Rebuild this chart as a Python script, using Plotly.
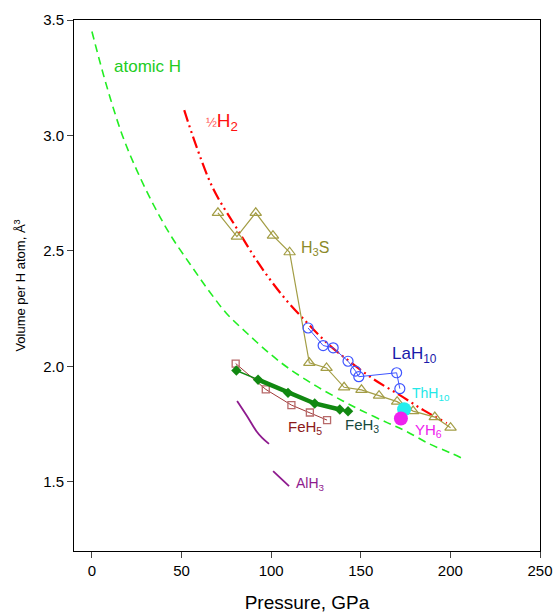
import plotly.graph_objects as go

# atomic H (dashed green)
atomic_p = [0, 8, 17, 25, 35, 44.5, 55, 65, 75, 87, 100, 110, 125, 140, 150, 165, 175, 188, 200, 207]
atomic_v = [3.45, 3.22, 3.0, 2.85, 2.69, 2.56, 2.44, 2.33, 2.23, 2.14, 2.05, 1.99, 1.915, 1.85, 1.81, 1.755, 1.72, 1.665, 1.625, 1.60]

# 1/2 H2 (dash-dot-dot red)
h2_p = [51.5, 57.5, 67.6, 80.6, 93.5, 107, 120.5, 132, 143.9, 157, 171.8, 185, 198]
h2_v = [3.11, 2.97, 2.77, 2.60, 2.44, 2.30, 2.185, 2.095, 2.02, 1.945, 1.875, 1.81, 1.754]

# H3S
h3s_p = [70.3, 80.9, 91.4, 101.0, 110.3, 121.3, 130.9, 140.7, 150.4, 160.2, 170.3, 179.2, 191.3, 200.1]
h3s_v = [2.665, 2.562, 2.665, 2.566, 2.494, 2.015, 1.993, 1.909, 1.898, 1.873, 1.847, 1.806, 1.780, 1.734]

# LaH10
lah_p = [120.6, 129.0, 134.6, 142.9, 147.1, 148.9, 170.0, 171.8]
lah_v = [2.166, 2.090, 2.080, 2.022, 1.979, 1.955, 1.972, 1.903]

# ThH10, YH6
thh_p = [174.2]
thh_v = [1.814]
yh_p = [172.4]
yh_v = [1.774]

# FeH3
feh3_p = [80.6, 92.7, 109.4, 124.3, 138.3, 142.9]
feh3_v = [1.982, 1.942, 1.885, 1.839, 1.813, 1.805]

# FeH5
feh5_p = [80.2, 97.0, 111.3, 121.6, 131.2]
feh5_v = [2.012, 1.900, 1.832, 1.800, 1.767]

# AlH3 (two segments)
alh3a_p = [81.0, 86.5, 91.8, 95.0, 98.8]
alh3a_v = [1.850, 1.785, 1.719, 1.690, 1.664]
alh3b_p = [101.1, 110.0]
alh3b_v = [1.546, 1.481]

xticks = [0, 50, 100, 150, 200, 250]
yticks = [1.5, 2.0, 2.5, 3.0, 3.5]

OLIVE = "#a39d45"
fig = go.Figure()

fig.add_trace(go.Scatter(x=atomic_p, y=atomic_v, mode="lines", line=dict(color="#22ee22", width=1.6, dash="8px,5px"), line_shape="spline"))
fig.add_trace(go.Scatter(x=h2_p, y=h2_v, mode="lines", line=dict(color="#ff0000", width=2.2, dash="12px,4px,2px,4px,2px,4px"), line_shape="spline"))
fig.add_trace(go.Scatter(x=h3s_p, y=h3s_v, mode="lines+markers", line=dict(color=OLIVE, width=1.2),
                         marker=dict(symbol="triangle-up-open", size=10, color=OLIVE, line=dict(width=1.2))))
fig.add_trace(go.Scatter(x=lah_p, y=lah_v, mode="lines+markers", line=dict(color="#3f55ff", width=1),
                         marker=dict(symbol="circle-open", size=10, color="#3f55ff", line=dict(width=1.2))))
fig.add_trace(go.Scatter(x=feh5_p, y=feh5_v, mode="lines+markers", line=dict(color="#a03a3a", width=1),
                         marker=dict(symbol="square-open", size=7, color="#b86a6a", line=dict(width=1.3))))
fig.add_trace(go.Scatter(x=feh3_p, y=feh3_v, mode="lines", line=dict(color="#118811", width=1.5)))
fig.add_trace(go.Scatter(x=feh3_p[1:5], y=feh3_v[1:5], mode="lines", line=dict(color="#118811", width=4.5)))
fig.add_trace(go.Scatter(x=feh3_p, y=feh3_v, mode="markers",
                         marker=dict(symbol="diamond", size=8, color="#118811")))
fig.add_trace(go.Scatter(x=alh3a_p, y=alh3a_v, mode="lines", line=dict(color="#8e1a8e", width=1.8), line_shape="spline"))
fig.add_trace(go.Scatter(x=alh3b_p, y=alh3b_v, mode="lines", line=dict(color="#8e1a8e", width=1.8)))
fig.add_trace(go.Scatter(x=thh_p, y=thh_v, mode="markers", marker=dict(symbol="circle", size=14, color="#22eeee")))
fig.add_trace(go.Scatter(x=yh_p, y=yh_v, mode="markers", marker=dict(symbol="circle", size=14, color="#ee22ee")))

F = "Arial, Liberation Sans, sans-serif"
def ann(x, y, text, color, size):
    fig.add_annotation(x=x, y=y, text=text, showarrow=False, xanchor="left", yanchor="middle",
                       font=dict(family=F, size=size, color=color))

ann(11, 3.30, "atomic H", "#22cc22", 17)
ann(62.5, 3.06, "<span style='font-size:13px;color:#ff5555'>½</span>H<sub>2</sub>", "#ff1111", 19)
ann(115.5, 2.51, "H<sub>3</sub>S", "#8c8a2a", 16)
ann(166.5, 2.05, "LaH<sub>10</sub>", "#1a1aaa", 17)
ann(177.5, 1.88, "ThH<sub>10</sub>", "#22e8e8", 14)
ann(179, 1.72, "YH<sub>6</sub>", "#ee22ee", 15)
ann(108.5, 1.735, "FeH<sub>5</sub>", "#8b1a1a", 15)
ann(140, 1.745, "FeH<sub>3</sub>", "#174a3e", 15)
ann(113, 1.49, "AlH<sub>3</sub>", "#8e1a8e", 14)

fig.update_layout(
    width=557, height=613, showlegend=False,
    paper_bgcolor="white", plot_bgcolor="white",
    margin=dict(l=74, r=17, t=20, b=62, autoexpand=False),
    font=dict(family=F, color="black"),
    xaxis=dict(range=[-10, 250], tickvals=xticks, ticks="outside", ticklen=6, tickwidth=1, automargin=False,
               showline=True, linecolor="black", linewidth=1, mirror=True, showgrid=False, zeroline=False,
               tickfont=dict(size=15), title=dict(text="Pressure, GPa", font=dict(size=19), standoff=18)),
    yaxis=dict(range=[1.2, 3.5], tickvals=yticks, tickformat=".1f", ticks="outside", ticklen=6, tickwidth=1, automargin=False,
               showline=True, linecolor="black", linewidth=1, mirror=True, showgrid=False, zeroline=False,
               tickfont=dict(size=15), title=dict(text="Volume per H atom, Å<sup>3</sup>", font=dict(size=13), standoff=14)),
)

fig.write_html("out.html")
